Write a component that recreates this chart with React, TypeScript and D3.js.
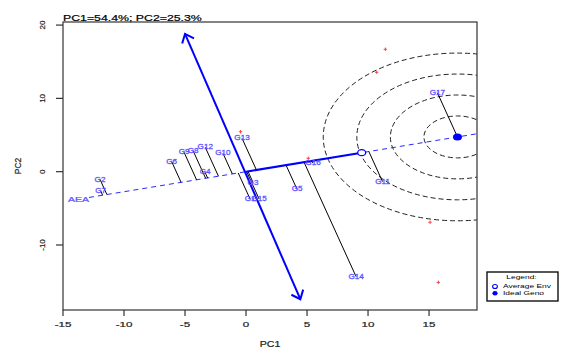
import * as d3 from "d3";

// genotype scores (PC1, PC2)
const genotypes = ["G1", "G2", "G3", "G4", "G5", "G6", "G7", "G8", "G9", "G10", "G11", "G12", "G13", "G14", "G15", "G16", "G17"];
const genoPC1 = [0.33, -11.97, 0.57, -3.36, 4.18, -6.09, -11.91, -4.34, -5.08, -1.89, 11.19, -3.34, -0.33, 9.02, 1.07, 5.49, 15.68];
const genoPC2 = [-3.72, -1.04, -1.45, -0.08, -2.4, 1.36, -2.63, 2.86, 2.65, 2.51, -1.36, 3.33, 4.56, -14.32, -3.72, 1.15, 10.78];

// environment markers (unlabelled red points)
const envPC1 = [11.42, 10.71, -0.45, 5.1, 15.08, 15.76];
const envPC2 = [16.7, 13.56, 5.45, 1.83, -6.9, -15.1];

const avgEnv = [9.48, 2.59];
const idealGeno = [17.33, 4.74];
const aecTop = [-5.0, 18.8];
const aecBottom = [4.45, -17.4];
const aeaStartPC1 = -12.87;
const circleRadii = [2.75, 5.5, 8.25, 11.0];

const xTicks = [-15, -10, -5, 0, 5, 10, 15];
const yTicks = [-10, 0, 10, 20];
const title = "PC1=54.4%; PC2=25.3%";

const W = 576;
const H = 352;
const left = 63, right = 477, top = 22, bottom = 310;
const FONT = "'Liberation Sans', Arial, sans-serif";
const LBL = "#5b50ff";

function SText(props: any) {
  const { x, y, sx = 1.45, size = 8, anchor = "middle", fill = "#000", base = "central", heavy = 0, children } = props;
  return (
    <text
      transform={`translate(${x},${y}) scale(${sx},1)`}
      fontSize={size}
      textAnchor={anchor}
      fill={fill}
      stroke={heavy ? fill : "none"}
      strokeWidth={heavy}
      fontFamily={FONT}
      dominantBaseline={base}
    >
      {children}
    </text>
  );
}

export default function App() {
  const x = d3.scaleLinear().domain([-15, 18.93]).range([left, right]);
  const y = d3.scaleLinear().domain([-18.87, 20.42]).range([bottom, top]);

  const len = Math.hypot(avgEnv[0], avgEnv[1]);
  const u = [avgEnv[0] / len, avgEnv[1] / len];
  const project = (p: number[]) => {
    const d = p[0] * u[0] + p[1] * u[1];
    return [d * u[0], d * u[1]];
  };
  const aeaEnd = 18.93;
  const aeaSlope = u[1] / u[0];

  const line = d3.line<number[]>().x((d) => x(d[0])).y((d) => y(d[1]));

  const head = (tip: number[], from: number[], hl = 10, ang = (40 * Math.PI) / 180) => {
    const t = [x(tip[0]), y(tip[1])];
    const f = [x(from[0]), y(from[1])];
    const a = Math.atan2(t[1] - f[1], t[0] - f[0]);
    const p1 = [t[0] - hl * Math.cos(a - ang), t[1] - hl * Math.sin(a - ang)];
    const p2 = [t[0] - hl * Math.cos(a + ang), t[1] - hl * Math.sin(a + ang)];
    return `M${p1[0]},${p1[1]}L${t[0]},${t[1]}L${p2[0]},${p2[1]}`;
  };

  return (
    <svg width={W} height={H} style={{ position: "absolute", left: 0, top: 0, background: "#fff" }}>
      <defs>
        <clipPath id="plotClip">
          <rect x={left} y={top} width={right - left} height={bottom - top} />
        </clipPath>
      </defs>

      <SText x={left} y={20.5} size={8.8} sx={1.4} anchor="start" base="auto" heavy={0.2}>{title}</SText>

      <g clipPath="url(#plotClip)">
        {circleRadii.map((r, i) => (
          <ellipse
            key={i}
            cx={x(idealGeno[0])}
            cy={y(idealGeno[1])}
            rx={x(idealGeno[0] + r) - x(idealGeno[0])}
            ry={(y(idealGeno[1]) - y(idealGeno[1] + r)) * 1.04}
            fill="none"
            stroke="#222"
            strokeWidth={1}
            strokeDasharray="5,3"
          />
        ))}

        {/* average environment axis */}
        <path
          d={line([[aeaStartPC1, aeaStartPC1 * aeaSlope], [aeaEnd, aeaEnd * aeaSlope]]) || ""}
          stroke="#2a2aff"
          strokeWidth={1}
          strokeDasharray="5,4"
          fill="none"
        />

        {/* genotype projections */}
        {genotypes.map((g, i) => {
          const p = [genoPC1[i], genoPC2[i]];
          return <path key={g} d={line([p, project(p)]) || ""} stroke="#000" strokeWidth={1} fill="none" />;
        })}

        {envPC1.map((v, i) => (
          <g key={i} transform={`translate(${x(v)},${y(envPC2[i])})`} stroke="#ff4040" strokeWidth={1}>
            <line x1={-1.7} x2={1.7} y1={0} y2={0} />
            <line x1={0} x2={0} y1={-1.7} y2={1.7} />
          </g>
        ))}

        {/* abscissa to average environment */}
        <path d={line([[0, 0], avgEnv]) || ""} stroke="#0000ff" strokeWidth={2} fill="none" />

        {/* ordinate (AEC) with arrows */}
        <path d={line([aecTop, aecBottom]) || ""} stroke="#0000ff" strokeWidth={2} fill="none" />
        <path d={head(aecTop, aecBottom)} stroke="#0000ff" strokeWidth={2} fill="none" />
        <path d={head(aecBottom, aecTop)} stroke="#0000ff" strokeWidth={2} fill="none" />

        <ellipse cx={x(avgEnv[0])} cy={y(avgEnv[1])} rx={4} ry={3} fill="#fff" stroke="#0000ff" strokeWidth={1.3} />
        <ellipse cx={x(idealGeno[0])} cy={y(idealGeno[1])} rx={4.5} ry={3.5} fill="#0000ff" />

        {genotypes.map((g, i) => (
          <SText key={g} x={x(genoPC1[i])} y={y(genoPC2[i])} size={6.5} sx={1.25} fill={LBL} heavy={0.25}>{g}</SText>
        ))}
      </g>

      <SText x={x(aeaStartPC1)} y={y(aeaStartPC1 * aeaSlope) + 2} size={7} sx={1.5} anchor="end" fill={LBL} heavy={0.25}>AEA</SText>

      {/* axes */}
      <rect x={left} y={top} width={right - left} height={bottom - top} fill="none" stroke="#333" strokeWidth={1.2} />
      {xTicks.map((t) => (
        <g key={t}>
          <line x1={x(t)} x2={x(t)} y1={bottom} y2={bottom + 6} stroke="#333" strokeWidth={1.2} />
          <SText x={x(t)} y={324} size={8} sx={1.45} fill="#222" heavy={0.2}>{t}</SText>
        </g>
      ))}
      {yTicks.map((t) => (
        <g key={t}>
          <line x1={left - 7} x2={left} y1={y(t)} y2={y(t)} stroke="#333" strokeWidth={1.2} />
          <text
            transform={`translate(42.5,${y(t)}) rotate(-90)`}
            fontSize={8}
            fontFamily={FONT}
            textAnchor="middle"
            dominantBaseline="central"
            fill="#222"
            stroke="#222"
            strokeWidth={0.2}
          >
            {t}
          </text>
        </g>
      ))}
      <SText x={(left + right) / 2} y={344} size={8.5} sx={1.25} fill="#222" heavy={0.2}>PC1</SText>
      <text
        transform={`translate(18,${(top + bottom) / 2}) rotate(-90)`}
        fontSize={8.5}
        fontFamily={FONT}
        textAnchor="middle"
        dominantBaseline="central"
        fill="#222"
        stroke="#222"
        strokeWidth={0.2}
      >
        PC2
      </text>

      {/* legend */}
      <rect x={487} y={272} width={71} height={29} fill="#fff" stroke="#111" strokeWidth={1.4} />
      <SText x={521.5} y={277.5} size={5.6} sx={1.5}>Legend:</SText>
      <ellipse cx={495} cy={286.5} rx={2.4} ry={2} fill="#fff" stroke="#0000ff" strokeWidth={1.1} />
      <SText x={503} y={286.7} size={5.6} sx={1.5} anchor="start">Average Env</SText>
      <ellipse cx={495} cy={293.3} rx={2.6} ry={2.2} fill="#0000ff" />
      <SText x={503} y={293.5} size={5.6} sx={1.5} anchor="start">Ideal Geno</SText>
    </svg>
  );
}
